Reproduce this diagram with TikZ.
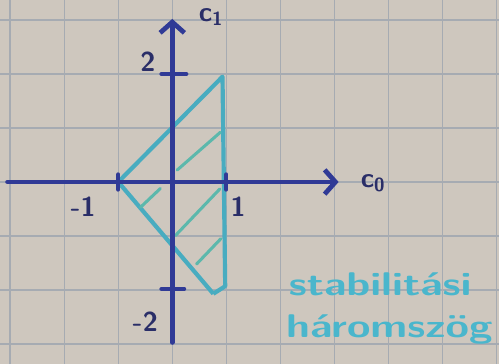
\documentclass[tikz,border=0pt]{standalone}
\usetikzlibrary{arrows.meta}
\definecolor{paper}{RGB}{206,199,190}
\definecolor{gridline}{RGB}{166,171,178}
\definecolor{inkBlue}{RGB}{48,58,150}
\definecolor{inkNavy}{RGB}{42,46,104}
\definecolor{inkTeal}{RGB}{72,172,192}
\definecolor{inkGreen}{RGB}{92,184,172}
\definecolor{inkCyan}{RGB}{74,182,204}

\begin{document}
\begin{tikzpicture}[
    axis/.style={draw=inkBlue, line width=2.5pt, line cap=round},
    tick/.style={draw=inkBlue, line width=2.2pt, line cap=round},
    edge/.style={draw=inkTeal, line width=2.2pt, line join=round},
    hatch/.style={draw=inkGreen, line width=1.6pt, line cap=round},
    lbl/.style={text=inkNavy, font=\sffamily\bfseries\Large},
    note/.style={text=inkCyan, font=\sffamily\bfseries\LARGE, xscale=1.3}
  ]
  % squared paper
  \fill[paper] (-3.19,-3.37) rectangle (6.05,3.37);
  \useasboundingbox (-3.19,-3.37) rectangle (6.05,3.37);
  \draw[gridline, line width=0.8pt] (-3.19,-3.37) grid (6.05,3.37);

  % stability triangle
  \coordinate (left) at (-1,0);
  \coordinate (top) at (0.93,1.95);
  \coordinate (right) at (0.98,-1.93);
  \coordinate (bottom) at (0.76,-2.07);
  \draw[edge] (bottom) -- (left) -- (top) -- (right) -- (bottom);

  \draw[hatch] (-0.59,-0.47) -- (-0.22,-0.12);
  \draw[hatch] (0.09,0.22) -- (0.89,0.92);
  \draw[hatch] (0.06,-0.99) -- (0.88,-0.13);
  \draw[hatch] (0.45,-1.52) -- (0.9,-1.05);

  % axes
  \coordinate (west) at (-3.05,0);
  \coordinate (east) at (3.08,0);
  \coordinate (south) at (0,-2.97);
  \coordinate (north) at (0,3.02);
  \draw[axis, -{Straight Barb[length=2mm,width=4.5mm]}] (west) -- (east);
  \draw[axis, -{Straight Barb[length=2mm,width=4.5mm]}] (south) -- (north);

  \draw[tick] (-1,-0.14) -- (-1,0.14);
  \draw[tick] (1,-0.14) -- (1,0.14);
  \draw[tick] (-0.2,2) -- (0.26,2);
  \draw[tick] (-0.2,-1.98) -- (0.22,-1.98);

  \node[lbl] (cZero) at (3.72,-0.02) {c\textsubscript{0}};
  \node[lbl] (cOne) at (0.72,3.05) {c\textsubscript{1}};
  \node[lbl] (mOne) at (-1.65,-0.45) {-1};
  \node[lbl] (pOne) at (1.22,-0.45) {1};
  \node[lbl] (pTwo) at (-0.45,2.22) {2};
  \node[lbl] (mTwo) at (-0.5,-2.58) {-2};

  \node[note] (word1) at (3.85,-1.9) {stabilitási};
  \node[note] (word2) at (4.02,-2.74) {háromszög};
\end{tikzpicture}
\end{document}
